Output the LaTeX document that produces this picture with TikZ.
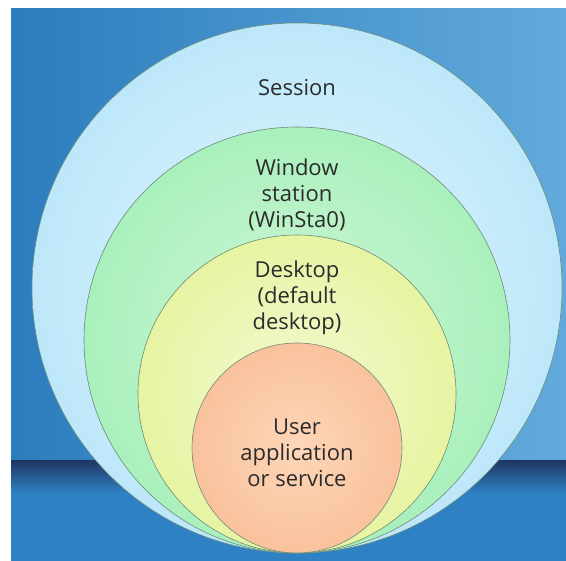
\documentclass[tikz,border=0pt]{standalone}
\usepackage{fontspec}
\setmainfont{Open Sans}
\usepackage{tikz}
\usetikzlibrary{positioning}
\definecolor{bgleft}{HTML}{2C7DBE}
\definecolor{bgright}{HTML}{62AADC}
\definecolor{bglow}{HTML}{2E82C4}
\definecolor{bandtop}{HTML}{1E3764}
\definecolor{ringline}{HTML}{6F8C78}
\definecolor{sessin}{HTML}{E2F5FC}
\definecolor{sessout}{HTML}{BDE8FA}
\definecolor{winin}{HTML}{D2F7D8}
\definecolor{winout}{HTML}{A9F0BC}
\definecolor{deskin}{HTML}{F4F9D2}
\definecolor{deskout}{HTML}{E6F4A2}
\definecolor{userin}{HTML}{FDD6B8}
\definecolor{userout}{HTML}{F9C29C}
\definecolor{labeltext}{HTML}{2B2B2B}

\begin{document}
\begin{tikzpicture}[x=1pt, y=1pt]
	\tikzstyle{every node} = [circle, draw = ringline, line width = 0.6pt, inner sep = 0pt]
\useasboundingbox (0,0) rectangle (566,561);
	% background
	\fill[white] (0,0) rectangle (566,561);
	\shade[left color = bgleft, right color = bgright] (11,100) rectangle (566,552);
	\fill[bglow] (11,0) rectangle (566,100);
	\shade[top color = bandtop, bottom color = bglow] (11,68) rectangle (566,100);

\node[minimum size = 530pt, inner color = sessin, outer color = sessout] (s) at (297, 273) {};
\node[minimum size = 426pt, inner color = winin, outer color = winout] (w) at (297, 221) {};
\node[minimum size = 318pt, inner color = deskin, outer color = deskout] (d) at (297, 167) {};
\node[minimum size = 210pt, inner color = userin, outer color = userout] (u) at (297, 113) {};

	\tikzstyle{ringlabel} = [rectangle, draw = none, align = center, text = labeltext, font = \fontsize{22}{26}\selectfont]
	\node[ringlabel] (sl) at (297, 473) {Session};
    \node[ringlabel] (wl) at (297, 366) {Window\\station\\(WinSta0)};
	\node[ringlabel] (dl) at (297, 263) {Desktop\\(default\\desktop)};
    \node[ringlabel] (ul) at (297, 108) {User\\application\\or service};
	\end{tikzpicture}
\end{document}
